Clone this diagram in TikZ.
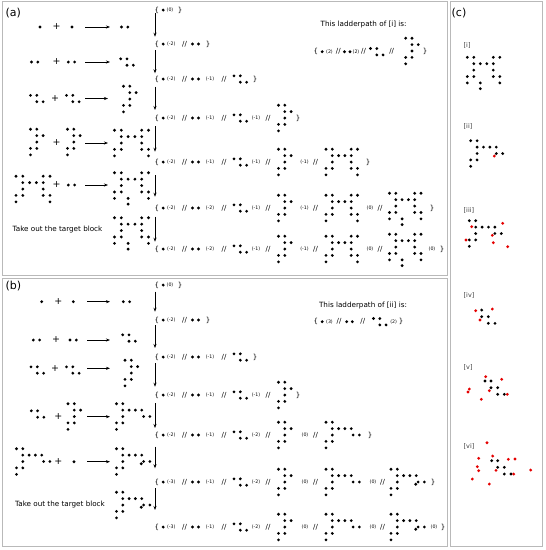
\documentclass[tikz,border=0pt]{standalone}
\usepackage{fontspec}
\setmainfont{DejaVu Sans}
\usetikzlibrary{arrows.meta}
\tikzset{
  frame/.style={draw=gray!55, line width=1pt},
  lbl/.style={inner sep=0pt, font=\fontsize{11}{12}\selectfont},
  txt/.style={inner sep=0pt, font=\fontsize{7.2}{8}\selectfont},
  num/.style={inner sep=0pt, font=\fontsize{4.7}{5}\selectfont},
  brc/.style={inner sep=0pt, font=\fontsize{7}{8}\selectfont},
  sls/.style={inner sep=0pt, font=\fontsize{7}{8}\selectfont},
  pls/.style={inner sep=0pt, font=\fontsize{9.5}{10}\selectfont},
  ltag/.style={inner sep=0pt, anchor=west, font=\fontsize{6.5}{7}\selectfont, text=black!75},
  rarr/.style={line width=0.55pt, -{Stealth[length=4pt,width=3pt]}},
  varr/.style={line width=0.65pt, -{Stealth[length=4pt,width=3pt]}},
  dotb/.style={fill=black},
  dotr/.style={fill=red!90!black},
}
\def\Pb{0/0,1/0}
\def\Pc{0/0,1/0,1/1,2/1}
\def\Pd{0/0,1/0,1/1,2/1,1/2,0/3,1/3,0/4}
\def\Pe{0/0,1/0,1/1,2/1,1/2,0/3,1/3,0/4,4/0,5/0,3/1,4/1,4/2,4/3,5/3,5/4}
\def\Pf{0/0,1/0,1/1,2/1,1/2,0/3,1/3,0/4,4/0,5/0,3/1,4/1,4/2,4/3,5/3,5/4,2/4,2/4.9}
\def\Qd{0/0,1/0,1/1,2/1,1/2,0/3,1/3,0/4,3/1,4/1,4.3/2,5.3/2}
\def\Qe{0/0,1/0,1/1,2/1,1/2,0/3,1/3,0/4,3/1,4/1,4.3/2,5.3/2,3.93/2.35}
\def\Qc{0/0,1/0,1/1,2/1,1/2,0/3,1/3,0/4,3/1,4/1,4/2,5/2}
\def\dr{1.55}
% x, y, centre row, x unit, list
\newcommand\pat[5]{\foreach \ia/\ib in #5 {\fill[dotb] ({#1+\ia*#4},{#2+(\ib-#3)*6.4}) circle (\dr);}}
\newcommand\DT[2]{\fill[dotb] (#1,#2) circle (\dr);}
\newcommand\RD[2]{\fill[dotr] (#1,#2) circle (\dr);}
\newcommand\LB[3]{\node[brc] (#1) at (#2,#3) {\{};}
\newcommand\RB[3]{\node[brc] (#1) at (#2,#3) {\}};}
\newcommand\NN[4]{\node[num] (#1) at (#2,#3) {#4};}
\newcommand\SL[3]{\node[sls] (#1) at (#2,#3) {//};}
\newcommand\PL[3]{\node[pls] (#1) at (#2,#3) {+};}
% ladder line pieces: id, y
\newcommand\Lhead[3]{\LB{#1b}{156.8}{#2}\DT{163.2}{#2}\NN{#1n1}{171.2}{#2}{#3}}
\newcommand\Lpair[2]{\SL{#1s1}{184.5}{#2}\DT{192.5}{#2}\DT{198.5}{#2}}
\newcommand\Ltri[3]{\NN{#1n2}{210}{#2}{#3}\SL{#1s2}{224}{#2}\pat{234}{#2}{0.5}{6.3}{\Pc}}
\newcommand\Lfour[3]{\NN{#1n3}{256}{#2}{#3}\SL{#1s3}{268}{#2}\pat{278.5}{#2}{2}{6.3}{\Pd}}
\newcommand\Larr[4]{\coordinate (#1s) at (155,#2); \coordinate (#1e) at (155,#3); \draw[#4] (#1s) -- (#1e);}
\newcommand\Rarr[4]{\coordinate (#1s) at (#2,#4); \coordinate (#1e) at (#3,#4); \draw[rarr] (#1s) -- (#1e);}
\begin{document}
\begin{tikzpicture}[x=1pt,y=-1pt]
\useasboundingbox (0,0) rectangle (546,550);
\draw[frame] (2.5,1.5) rectangle (447.5,275.5);
\draw[frame] (2.5,278.5) rectangle (447.5,546.5);
\draw[frame] (450.5,1.5) rectangle (542.5,546.5);
\node[lbl] (la) at (13.3,12.7) {(a)};
\node[lbl] (lb) at (13.3,286) {(b)};
\node[lbl] (lc) at (459,12.7) {(c)};

% ---------- (a) reactions ----------
\DT{40}{27}\PL{ap1}{56.7}{27}\DT{72}{27}\Rarr{ar1}{85}{110}{27}\pat{121.5}{27}{0}{6.3}{\Pb}
\pat{31.5}{62}{0}{6.3}{\Pb}\PL{ap2}{56.7}{62}\pat{68.3}{62}{0}{6.3}{\Pb}\Rarr{ar2}{85}{110}{62}\pat{120.7}{62}{0.5}{6.3}{\Pc}
\pat{30.5}{98.5}{0.5}{6.3}{\Pc}\PL{ap3}{55}{98.5}\pat{66.5}{98.5}{0.5}{6.3}{\Pc}\Rarr{ar3}{85}{108}{98.5}\pat{123.5}{99}{2}{6.3}{\Pd}
\pat{30.5}{142}{2}{6.3}{\Pd}\PL{ap4}{56.7}{143}\pat{67.5}{142}{2}{6.3}{\Pd}\Rarr{ar4}{85}{108}{143}\pat{114.5}{143}{2}{6.8}{\Pe}
\pat{16}{189}{2}{6.8}{\Pe}\PL{ap5}{56.7}{185}\pat{68.3}{185}{0}{6.3}{\Pb}\Rarr{ar5}{85}{108}{185}\pat{114.5}{187.5}{2.3}{6.8}{\Pf}
\node[txt] (ta) at (57.5,229.5) {Take out the target block};
\pat{114.5}{232.5}{2.3}{6.8}{\Pf}

% ---------- (a) ladder ----------
\LB{a0b}{156.8}{10}\DT{163.2}{10}\NN{a0n1}{170}{10}{(0)}\RB{a0r}{180}{10}
\Larr{aa1}{13.3}{36.7}{varr}
\Lhead{a1}{44}{(-2)}\Lpair{a1}{44}\RB{a1r}{208}{44}
\Larr{aa2}{50}{73.3}{varr}
\Lhead{a2}{79}{(-2)}\Lpair{a2}{79}\Ltri{a2}{79}{(-1)}\RB{a2r}{255}{79}
\Larr{aa3}{86.7}{110}{varr}
\Lhead{a3}{118}{(-2)}\Lpair{a3}{118}\Ltri{a3}{118}{(-1)}\Lfour{a3}{118}{(-1)}\RB{a3r}{298}{118}
\Larr{aa4}{126}{151.7}{varr}
\Lhead{a4}{162}{(-2)}\Lpair{a4}{162}\Ltri{a4}{162}{(-1)}\Lfour{a4}{162}{(-1)}
\NN{a4n4}{304.5}{162}{(-1)}\SL{a4s4}{315.5}{162}\pat{326}{162}{2}{6.3}{\Pe}\RB{a4r}{368}{162}
\Larr{aa5}{175}{196.7}{varr}
\Lhead{a5}{208}{(-2)}\Lpair{a5}{208}\Ltri{a5}{208}{(-2)}\Lfour{a5}{208}{(-1)}
\NN{a5n4}{304.5}{208}{(-1)}\SL{a5s4}{315.5}{208}\pat{326}{208}{2}{6.3}{\Pe}
\NN{a5n5}{370}{208}{(0)}\SL{a5s5}{380}{208}\pat{389.5}{208}{2.3}{6.3}{\Pf}\RB{a5r}{432}{208}
\Larr{aa6}{216.7}{241.7}{varr}
\Lhead{a6}{249}{(-2)}\Lpair{a6}{249}\Ltri{a6}{249}{(-2)}\Lfour{a6}{249}{(-1)}
\NN{a6n4}{304.5}{249}{(-1)}\SL{a6s4}{315.5}{249}\pat{326}{249}{2}{6.3}{\Pe}
\NN{a6n5}{370}{249}{(0)}\SL{a6s5}{380}{249}\pat{389.5}{249}{2.3}{6.3}{\Pf}
\NN{a6n6}{432}{249}{(0)}\RB{a6r}{442}{249}

% ladderpath of [i]
\node[txt] (tia) at (363.7,25) {This ladderpath of [i] is:};
\LB{iab}{315.8}{51.7}\DT{322.2}{51.7}\NN{ian1}{329.5}{51.7}{(2)}\SL{ias1}{338.3}{51.7}
\DT{344.5}{51.7}\DT{350}{51.7}\NN{ian2}{356}{51.7}{(2)}\SL{ias2}{363.5}{51.7}
\pat{370.5}{51.7}{0.5}{6.3}{\Pc}\SL{ias3}{391.7}{51.7}\pat{405.7}{51}{2}{6.3}{\Pd}\RB{iar}{425}{51.7}

% ---------- (b) reactions ----------
\DT{41.7}{301.7}\PL{bp1}{58.3}{301.7}\DT{73.3}{301.7}\Rarr{br1}{87}{110}{301.7}\pat{123.3}{301.7}{0}{6.3}{\Pb}
\pat{33.3}{340}{0}{6.3}{\Pb}\PL{bp2}{56}{340}\pat{70}{340}{0}{6.3}{\Pb}\Rarr{br2}{87}{110}{340}\pat{122.7}{338}{0.5}{6.3}{\Pc}
\pat{31}{370}{0.5}{6.3}{\Pc}\PL{bp3}{55}{368.3}\pat{66.5}{370}{0.5}{6.3}{\Pc}\Rarr{br3}{87}{110}{368.3}\pat{125}{373}{2}{6.3}{\Pd}
\pat{31.3}{414}{0.5}{6.3}{\Pc}\PL{bp4}{58.3}{416.7}\pat{68}{416.5}{2}{6.3}{\Pd}\Rarr{br4}{87}{110}{416.7}\pat{116.5}{416.5}{2}{6.3}{\Qd}
\pat{16.5}{461.5}{2}{6.3}{\Qd}\PL{bp5}{58.3}{461.7}\DT{74}{461.7}\Rarr{br5}{87}{110}{461.7}\pat{116.5}{461.5}{2}{6.3}{\Qe}
\node[txt] (tb) at (60,505) {Take out the target block};
\pat{116.5}{505}{2}{6.3}{\Qe}

% ---------- (b) ladder ----------
\LB{b0b}{156.8}{285}\DT{163.2}{285}\NN{b0n1}{170}{285}{(0)}\RB{b0r}{180}{285}
\Larr{bb1}{291.7}{311.7}{varr}
\Lhead{b1}{320}{(-2)}\Lpair{b1}{320}\RB{b1r}{208}{320}
\Larr{bb2}{325}{348}{varr}
\Lhead{b2}{357}{(-2)}\Lpair{b2}{357}\Ltri{b2}{357}{(-1)}\RB{b2r}{255}{357}
\Larr{bb3}{363}{386.7}{varr}
\Lhead{b3}{395}{(-2)}\Lpair{b3}{395}\Ltri{b3}{395}{(-1)}\Lfour{b3}{395}{(-1)}\RB{b3r}{298}{395}
\Larr{bb4}{403}{428}{varr}
\Lhead{b4}{435}{(-2)}\Lpair{b4}{435}\Ltri{b4}{435}{(-1)}\Lfour{b4}{435}{(-2)}
\NN{b4n4}{305}{435}{(0)}\SL{b4s4}{315.5}{435}\pat{326}{435}{2}{6.3}{\Qd}\RB{b4r}{370}{435}
\Larr{bb5}{446.7}{468.3}{varr}
\Lhead{b5}{482}{(-3)}\Lpair{b5}{482}\Ltri{b5}{482}{(-1)}\Lfour{b5}{482}{(-2)}
\NN{b5n4}{305}{482}{(0)}\SL{b5s4}{315.5}{482}\pat{326}{482}{2}{6.3}{\Qd}
\NN{b5n5}{373}{482}{(0)}\SL{b5s5}{382.5}{482}\pat{391}{482}{2}{6.3}{\Qe}\RB{b5r}{433}{482}
\Larr{bb6}{488.3}{510}{varr}
\Lhead{b6}{527}{(-3)}\Lpair{b6}{527}\Ltri{b6}{527}{(-1)}\Lfour{b6}{527}{(-2)}
\NN{b6n4}{305}{527}{(0)}\SL{b6s4}{315.5}{527}\pat{326}{527}{2}{6.3}{\Qd}
\NN{b6n5}{373}{527}{(0)}\SL{b6s5}{382.5}{527}\pat{391}{527}{2}{6.3}{\Qe}
\NN{b6n6}{434}{527}{(0)}\RB{b6r}{443}{527}

% ladderpath of [ii]
\node[txt] (tib) at (363,306) {This ladderpath of [ii] is:};
\LB{ibb}{315.8}{321.7}\DT{322.2}{321.7}\NN{ibn1}{329.5}{321.7}{(3)}\SL{ibs1}{339}{321.7}
\DT{346.7}{321.7}\DT{352.3}{321.7}\SL{ibs2}{362.8}{321.7}
\pat{373.5}{321.7}{0.5}{6.3}{\Pc}\NN{ibn2}{393.7}{321.7}{(2)}\RB{ibr}{401}{321.7}

% ---------- (c) ----------
\node[ltag] (c1) at (463.5,45) {[i]};
\pat{467.3}{57.3}{0}{6.5}{\Pf}
\node[ltag] (c2) at (463.5,126.7) {[ii]};
\pat{470.7}{140.7}{0}{6.4}{\Qc}
\RD{494.3}{156}
\node[ltag] (c3) at (463.5,210) {[iii]};
\pat{469.3}{220.7}{0}{6.4}{\Qc}
\RD{471.7}{226.7}\RD{492.3}{235.3}\RD{466}{240}\RD{502.7}{223.3}\RD{493.3}{242.7}\RD{507.7}{246.7}
\node[ltag] (c4) at (463.5,295) {[iv]};
\DT{481.7}{310}\DT{481.7}{316.7}\DT{488.3}{316.7}\DT{488.3}{323.3}\DT{495}{323.3}
\RD{475.7}{310.7}\RD{492.3}{309}\RD{480}{320}
\node[ltag] (c5) at (463.5,367.3) {[v]};
\DT{485}{381}\DT{491}{381}\DT{491}{387.7}\DT{497.7}{387.7}\DT{497.7}{394.3}\DT{504.3}{394.3}
\RD{485.7}{376.7}\RD{501.7}{379.3}\RD{469.3}{389}\RD{468}{392}\RD{489.3}{390.7}\RD{507.3}{394.3}\RD{481.3}{399.3}
\node[ltag] (c6) at (463.5,446.7) {[vi]};
\DT{491.7}{460.7}\DT{497.7}{460.7}\DT{497.7}{467.3}\DT{504.3}{467.3}\DT{504.3}{474}\DT{511}{474}
\RD{487}{442.7}\RD{478.7}{458.3}\RD{492.7}{456}\RD{508.3}{459.3}\RD{515}{459}\RD{477.3}{466.7}
\RD{478.7}{470.7}\RD{496}{470.3}\RD{513.7}{474}\RD{530.7}{470}\RD{472.3}{479}\RD{489.3}{484}
\end{tikzpicture}
\end{document}
